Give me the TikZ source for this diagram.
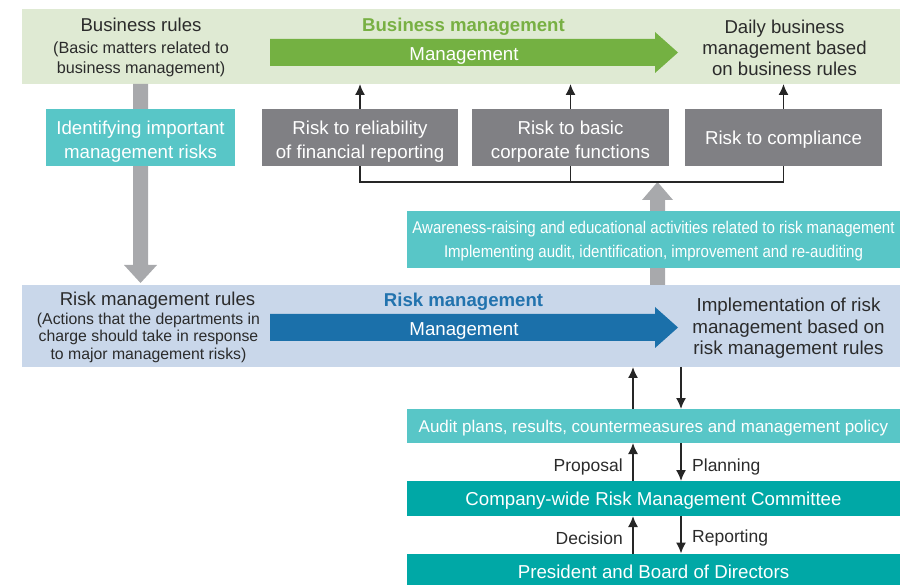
\documentclass[tikz,border=0pt]{standalone}
\usepackage{fontspec}
\setmainfont{Liberation Sans}
\newfontfamily\narrowfont[FakeStretch=0.885]{Liberation Sans}
\usetikzlibrary{arrows.meta}
\newcommand\topstrut[1]{\rule{0pt}{#1}}
\definecolor{bandgreen}{HTML}{DFEAD3}
\definecolor{arrgreen}{HTML}{74B142}
\definecolor{txtgreen}{HTML}{78B043}
\definecolor{bandblue}{HTML}{C9D7EA}
\definecolor{arrblue}{HTML}{1B70AA}
\definecolor{txtblue}{HTML}{2273AE}
\definecolor{lteal}{HTML}{58C6C7}
\definecolor{dteal}{HTML}{00A8A6}
\definecolor{boxgray}{HTML}{808084}
\definecolor{arrgray}{HTML}{A8A9AC}
\definecolor{txtdark}{HTML}{2B2B2B}
\begin{document}
\begin{tikzpicture}[x=1pt,y=-1pt,
  drop/.style={execute at begin node={\rule{0pt}{1em}}},
  box/.style={rectangle,inner sep=0pt,outer sep=0pt,align=center},
  bandbox/.style={box,fill=#1},
  graybox/.style={box,drop,fill=boxgray,text=white,minimum height=57pt,font=\fontsize{18.7}{24}\selectfont},
  tealbox/.style={box,drop,fill=#1,text=white,minimum width=493pt,font=\fontsize{18.7}{24}\selectfont},
  title/.style={inner sep=0pt,drop,align=center,text=txtdark,font=\fontsize{18.6}{21}\selectfont},
  subtitle/.style={inner sep=0pt,drop,align=center,text=txtdark,font=\fontsize{15.8}{17.5}\selectfont},
  label/.style={inner sep=0pt,drop,text=txtdark,font=\fontsize{17.5}{20}\selectfont},
  smallarrow/.style={-{Latex[length=11pt,width=10pt]},line width=1.5pt,draw=black!85},
  line/.style={line width=1.5pt,draw=black!85}
]
\useasboundingbox (0,0) rectangle (900,585);

% bands
\node[bandbox=bandgreen,minimum width=878pt,minimum height=75pt] (band1) at (461,46.5) {};
\node[bandbox=bandblue,minimum width=878pt,minimum height=82pt] (band2) at (461,326) {};

% big gray arrows
\fill[arrgray] (133,84) -- (148,84) -- (148,265) -- (157,265) -- (140.5,283) -- (124,265) -- (133,265) -- cycle;
\fill[arrgray] (650,285) -- (665,285) -- (665,200) -- (673,200) -- (657.5,182) -- (642,200) -- (650,200) -- cycle;

% block arrows
\fill[arrgreen] (270,39) -- (655,39) -- (655,32) -- (678,52.5) -- (655,73) -- (655,66) -- (270,66) -- cycle;
\fill[arrblue] (270,314) -- (655,314) -- (655,307) -- (678,327.5) -- (655,348) -- (655,341) -- (270,341) -- cycle;

% band 1 texts
\node[inner sep=0pt,drop,text=txtgreen,font=\fontsize{18.6}{21}\selectfont\bfseries] (bmtitle) at (463.5,24) {Business management};
\node[inner sep=0pt,drop,text=white,font=\fontsize{18.7}{21}\selectfont] (bmarrow) at (464,53) {Management};
\node[title] (brules) at (141,22) {Business rules};
\node[subtitle,font=\fontsize{16.2}{20.5}\selectfont] (brsub) at (141,57.5) {\topstrut{15.8pt}(Basic matters related to\\business management)};
\node[title] (daily) at (784.5,47) {\topstrut{15.6pt}Daily business\\management based\\on business rules};

% band 2 texts
\node[inner sep=0pt,drop,text=txtblue,font=\fontsize{18.6}{21}\selectfont\bfseries] (rmtitle) at (463.5,299) {Risk management};
\node[inner sep=0pt,drop,text=white,font=\fontsize{18.7}{21}\selectfont] (rmarrow) at (464,328) {Management};
\node[title] (rmrules) at (157.5,298) {Risk management rules};
\node[subtitle] (rmsub) at (148.5,335.5) {\topstrut{15.5pt}(Actions that the departments in\\charge should take in response\\to major management risks)};
\node[title,font=\fontsize{18.8}{21.5}\selectfont] (impl) at (788.5,325.5) {\topstrut{19.7pt}Implementation of risk\\management based on\\risk management rules};

% boxes
\node[graybox,fill=lteal,minimum width=189pt] (ident) at (140.5,137.5) {\topstrut{21.6pt}Identifying important\\management risks};
\node[graybox,minimum width=196pt] (r1) at (360,137.5) {\topstrut{21.6pt}Risk to reliability\\of financial reporting};
\node[graybox,minimum width=197pt] (r2) at (570.5,137.5) {\topstrut{21.6pt}Risk to basic\\corporate functions};
\node[graybox,minimum width=197pt] (r3) at (783.5,137.5) {Risk to compliance};

\node[tealbox=lteal,minimum height=57pt,font=\narrowfont\fontsize{17}{24}\selectfont] (aware) at (653.5,239.5)
  {\topstrut{16.4pt}Awareness-raising and educational activities related to risk management\\Implementing audit, identification, improvement and re-auditing};
\node[tealbox=lteal,minimum height=34pt,font=\fontsize{17}{24}\selectfont] (audit) at (653.5,426) {Audit plans, results, countermeasures and management policy};
\node[tealbox=dteal,minimum height=35pt] (comm) at (653.5,498.5) {Company-wide Risk Management Committee};
\node[tealbox=dteal,minimum height=32pt] (pres) at (653.5,569.5) {President and Board of Directors};

% risk arrows and bracket
\coordinate (brk) at (0,182);
\draw[smallarrow] (r1.north) -- (r1.north |- band1.south);
\draw[smallarrow] (r2.north) -- (r2.north |- band1.south);
\draw[smallarrow] (r3.north) -- (r3.north |- band1.south);
\draw[line] (r1.south) -- (r1.south |- brk) -- (r3.south |- brk) -- (r3.south);
\draw[line] (r2.south) -- (r2.south |- brk);

% lower arrows
\coordinate (up) at (633,0);
\coordinate (dn) at (681,0);
\draw[smallarrow] (up |- audit.north) -- (up |- band2.south);
\draw[smallarrow] (dn |- band2.south) -- (dn |- audit.north);
\draw[smallarrow] (up |- comm.north) -- (up |- audit.south);
\draw[smallarrow] (dn |- audit.south) -- (dn |- comm.north);
\draw[smallarrow] (up |- pres.north) -- (up |- comm.south);
\draw[smallarrow] (dn |- comm.south) -- (dn |- pres.north);

\node[label,anchor=east] (prop) at (623,465) {Proposal};
\node[label,anchor=west] (plan) at (692,465) {Planning};
\node[label,anchor=east] (dec) at (623,536) {Decision};
\node[label,anchor=west] (rep) at (692,536) {Reporting};
\end{tikzpicture}
\end{document}
